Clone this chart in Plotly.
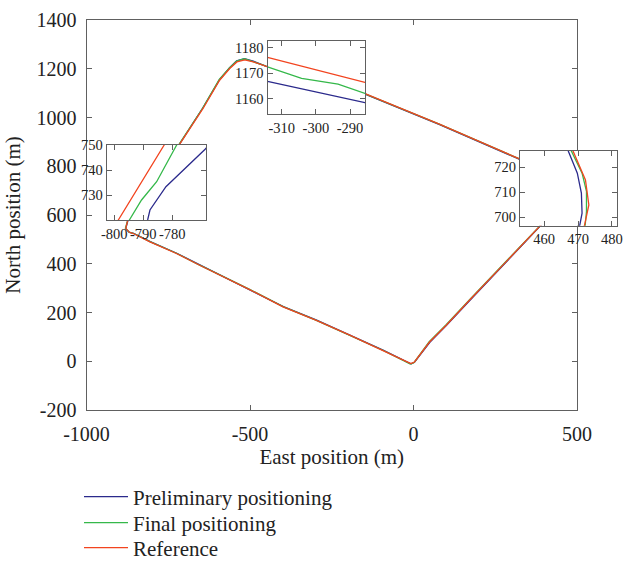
import plotly.graph_objects as go

# ---------------- data ----------------
series_names = ["Preliminary positioning", "Final positioning", "Reference"]

prelim_east = [-8, 3, 50, 101, 172, 294, 386, 440, 470.5, 471.2, 471.0, 469.8, 467.1, 323, 78, -150,
               -285.6, -314.2, -450, -490, -517, -541, -563, -593, -645, -717, -766, -768.7, -782.2,
               -787.7, -788.5, -873, -880, -869, -856, -805, -724, -653, -500, -398, -296, -194, -93, -8]
prelim_north = [-11, -4, 78, 147, 249, 420, 550, 629, 696.6, 701.6, 709.6, 717.6, 726.6, 829, 972, 1097,
                1158.4, 1166.8, 1210, 1231, 1241, 1232, 1203, 1155, 1038, 888, 752, 748.3, 733.3,
                724, 720, 578, 544, 529, 525, 491, 443, 395, 295, 224, 169, 108, 46, -11]

final_east = [-9, 2, 48, 99, 170, 292, 384, 440, 472.1, 472.5, 472.5, 471.2, 468.0, 324, 79, -150,
              -285.6, -293.5, -304.2, -314.2, -451, -491, -517, -541, -563, -594, -645, -718, -778.5,
              -785.4, -790.6, -794.8, -874, -881, -870, -857, -806, -725, -654, -501, -399, -297, -195, -94, -9]
final_north = [-12, -5, 80, 149, 251, 422, 552, 630, 696.6, 702.3, 710.3, 717.6, 726.6, 830, 973, 1098,
               1162, 1165.7, 1168, 1172.5, 1211, 1231, 1241, 1231, 1203, 1156, 1038, 888, 750,
               735.3, 728, 720, 579, 545, 530, 525, 491, 443, 394, 295, 224, 168, 107, 45, -12]

ref_east = [-8, 3, 49, 100, 171, 293, 385, 440, 471.9, 473.2, 472.2, 468.5, 324, 79, -150, -285.6, -314.2,
            -450, -490, -516, -540, -562, -593, -644, -717, -782.8, -798.6, -874, -880, -870, -857, -806,
            -725, -654, -501, -399, -297, -195, -94, -8]
ref_north = [-10, -3, 79, 148, 250, 421, 551, 630, 696.6, 704.9, 714.9, 726.6, 830, 973, 1099, 1166.4, 1176.2,
             1210, 1228, 1236, 1228, 1201, 1153, 1036, 887, 750, 720, 578, 545, 530, 524, 490,
             442, 394, 294, 223, 168, 107, 45, -10]

main_xticks = [-1000, -500, 0, 500]
main_xticklabels = ["-1000", "-500", "0", "500"]
main_yticks = [-200, 0, 200, 400, 600, 800, 1000, 1200, 1400]
main_yticklabels = ["-200", "0", "200", "400", "600", "800", "1000", "1200", "1400"]

top_xticks = [-310, -300, -290]
top_xticklabels = ["-310", "-300", "-290"]
top_yticks = [1160, 1170, 1180]
left_xticks = [-800, -790, -780]
left_xticklabels = ["-800", "-790", "-780"]
left_yticks = [730, 740, 750]
right_xticks = [460, 470, 480]
right_yticks = [700, 710, 720]

# ---------------- styling ----------------
W, H = 623, 562
colors = ["#2b2a8c", "#35b84a", "#f2441f"]
FONT = "Liberation Serif"
AX = "#606060"

def dx(a, b):
    return [a / W, b / W]

def dy(top, bottom):
    return [1 - bottom / H, 1 - top / H]

all_series = [(prelim_east, prelim_north), (final_east, final_north), (ref_east, ref_north)]
axes_ids = [("x", "y"), ("x2", "y2"), ("x3", "y3"), ("x4", "y4")]
legend_ids = ["legend", "legend2", "legend3"]
legend_rows = [497, 523, 548]   # pixel centre of each legend box

fig = go.Figure()
for k, (xa, ya) in enumerate(axes_ids):
    for i, (e, n) in enumerate(all_series):
        fig.add_trace(go.Scatter(
            x=e, y=n, mode="lines", xaxis=xa, yaxis=ya,
            line=dict(color=colors[i], width=1.3),
            name=series_names[i], showlegend=(k == 0), legend=legend_ids[i],
            hoverinfo="skip"))

def axis_style(size, **kw):
    d = dict(showline=True, linecolor=AX, linewidth=1.2, mirror="ticks",
             ticks="inside", ticklen=5, tickcolor=AX, tickwidth=1,
             showgrid=False, zeroline=False, automargin=False, tickangle=0,
             ticklabeloverflow="allow",
             tickfont=dict(family=FONT, size=size, color="#222"))
    d.update(kw)
    return d

def legend_style(row):
    return dict(x=79 / W, y=1 - row / H, xanchor="left", yanchor="middle",
                font=dict(family=FONT, size=21, color="#222"),
                bgcolor="rgba(0,0,0,0)", itemwidth=44)

IF = 14.5
fig.update_layout(
    width=W, height=H,
    margin=dict(l=0, r=0, t=0, b=0, autoexpand=False),
    paper_bgcolor="white", plot_bgcolor="white",
    font=dict(family=FONT, color="#222"),
    xaxis=axis_style(20, domain=dx(86.5, 577), range=[-1000, 500], anchor="y",
                     tickvals=main_xticks, ticktext=main_xticklabels, ticklabelstandoff=6,
                     title=dict(text="East position (m)", font=dict(family=FONT, size=21), standoff=2)),
    yaxis=axis_style(20, domain=dy(20, 410), range=[-200, 1400], anchor="x",
                     tickvals=main_yticks, ticktext=main_yticklabels, ticklabelstandoff=5,
                     title=dict(text="North position (m)", font=dict(family=FONT, size=21), standoff=10)),
    # top inset
    xaxis2=axis_style(IF, domain=dx(267.5, 365), range=[-314.2, -285.6], anchor="y2",
                      tickvals=top_xticks, ticktext=top_xticklabels),
    yaxis2=axis_style(IF, domain=dy(41, 114.3), range=[1153.8, 1182.7], anchor="x2",
                      tickvals=top_yticks),
    # left inset
    xaxis3=axis_style(IF, domain=dx(106.7, 206), range=[-802.6, -768.4], anchor="y3",
                      tickvals=left_xticks, ticktext=left_xticklabels),
    yaxis3=axis_style(IF, domain=dy(145, 220), range=[720, 750], anchor="x3",
                      tickvals=left_yticks),
    # right inset
    xaxis4=axis_style(IF, domain=dx(520, 617), range=[452.9, 481.5], anchor="y4",
                      tickvals=right_xticks),
    yaxis4=axis_style(IF, domain=dy(150.7, 225.7), range=[696.6, 726.6], anchor="x4",
                      tickvals=right_yticks),
    legend=legend_style(legend_rows[0]),
    legend2=legend_style(legend_rows[1]),
    legend3=legend_style(legend_rows[2]),
    showlegend=True,
)

# remove the default 8 px page margin so the figure fills the 623x562 window exactly
fig.write_html("out.html",
               config={"displayModeBar": False},
               post_script="document.body.style.margin='0';document.body.style.overflow='hidden';")
